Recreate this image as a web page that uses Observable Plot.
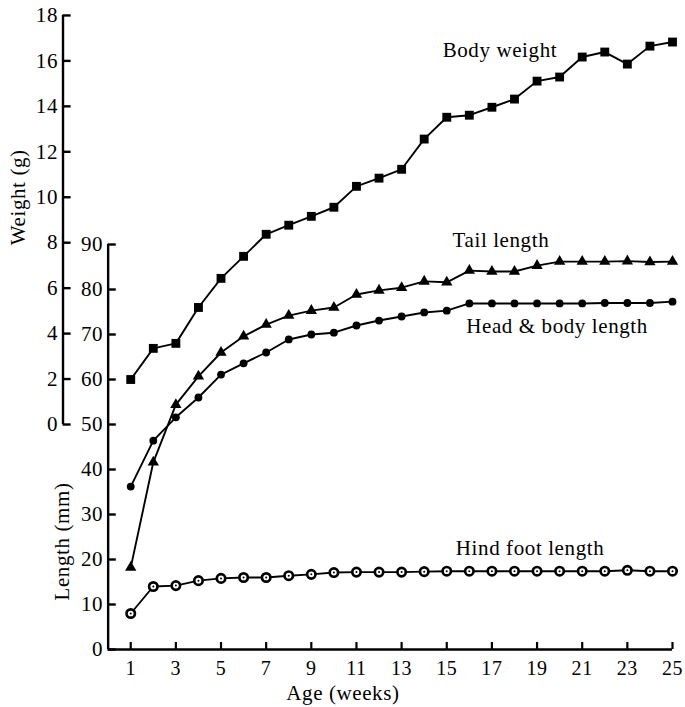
<!DOCTYPE html>
<html>
<head>
<meta charset="utf-8">
<script src="https://cdn.jsdelivr.net/npm/d3@7"></script>
<script src="https://cdn.jsdelivr.net/npm/@observablehq/plot@0.6"></script>
<style>
  html, body { margin: 0; padding: 0; background: #fff; }
  #chart svg { display: block; }
  #chart svg text { letter-spacing: 0.6px; }
</style>
</head>
<body>
<div id="chart"></div>
<script>
// ---- data ----
const weeks = [1,2,3,4,5,6,7,8,9,10,11,12,13,14,15,16,17,18,19,20,21,22,23,24,25];
const bodyWeight = [1.98,3.35,3.57,5.15,6.43,7.4,8.37,8.77,9.16,9.56,10.48,10.84,11.23,12.56,13.52,13.61,13.96,14.32,15.11,15.29,16.17,16.39,15.86,16.65,16.83];
const tailLength = [18.2,41.6,54.4,60.7,66.0,69.6,72.2,74.2,75.3,76.0,78.9,79.8,80.4,81.8,81.6,84.2,84.0,84.0,85.3,86.2,86.2,86.2,86.3,86.1,86.2];
const headBodyLength = [36.2,46.4,51.6,56.0,61.1,63.6,66.0,68.9,70.0,70.4,72.0,73.1,74.0,74.9,75.3,76.9,76.9,76.9,76.9,76.9,76.9,77.0,77.0,77.0,77.3];
const hindFootLength = [8.0,14.0,14.2,15.3,15.8,16.0,16.0,16.4,16.7,17.1,17.2,17.2,17.2,17.3,17.4,17.4,17.4,17.4,17.4,17.4,17.4,17.4,17.6,17.4,17.4];
const weightTicks = [0,2,4,6,8,10,12,14,16,18];
const lengthTicks = [0,10,20,30,40,50,60,70,80,90];
const ageTicks = [1,3,5,7,9,11,13,15,17,19,21,23,25];
const seriesNames = ["Body weight", "Tail length", "Head & body length", "Hind foot length"];
const axisTitles = {weight: "Weight (g)", length: "Length (mm)", age: "Age (weeks)"};

// ---- layout helpers ----
// weight axis is drawn on the length scale: 0 g sits at 50 mm, 8 g at 90 mm
const weightToLength = w => 50 + 5.05 * w;
const weightAxisAt = -2;   // in weeks
const lengthAxisAt = 0;    // in weeks
const yTickWeeks = 0.36;
const xTickMM = 1.55;

const rows = (name, vals, toY) => weeks.map((wk, i) => ({series: name, week: wk, value: vals[i], y: toY(vals[i])}));
const bw = rows(seriesNames[0], bodyWeight, weightToLength);
const tl = rows(seriesNames[1], tailLength, v => v);
const hb = rows(seriesNames[2], headBodyLength, v => v);
const hf = rows(seriesNames[3], hindFootLength, v => v);

const ink = "#000";
const lineW = 1.9;

const chart = Plot.plot({
  width: 685,
  height: 707,
  marginLeft: 62.5,
  marginRight: 13,
  marginTop: 19,
  marginBottom: 58,
  x: {domain: [-2, 25], axis: null},
  y: {domain: [0, 140], axis: null},
  style: {fontFamily: "'Liberation Serif', 'DejaVu Serif', serif", fontSize: "21px", background: "#fff", color: ink},
  marks: [
    // weight axis
    Plot.ruleX([weightAxisAt], {y1: weightToLength(0), y2: weightToLength(18), stroke: ink, strokeWidth: 2.4}),
    Plot.ruleY(weightTicks, {y: weightToLength, x1: weightAxisAt, x2: weightAxisAt + yTickWeeks, stroke: ink, strokeWidth: 2.4}),
    Plot.text(weightTicks, {x: weightAxisAt, y: weightToLength, text: d => String(d), textAnchor: "end", dx: -5, fill: ink}),
    Plot.text([axisTitles.weight], {x: weightAxisAt, y: weightToLength(10), rotate: -90, dx: -45, fill: ink}),
    // length axis
    Plot.ruleX([lengthAxisAt], {y1: 0, y2: 90, stroke: ink, strokeWidth: 2.4}),
    Plot.ruleY(lengthTicks, {y: d => d, x1: lengthAxisAt, x2: lengthAxisAt + yTickWeeks, stroke: ink, strokeWidth: 2.4}),
    Plot.text(lengthTicks, {x: lengthAxisAt, y: d => d, text: d => String(d), textAnchor: "end", dx: -5, fill: ink}),
    Plot.text([axisTitles.length], {x: lengthAxisAt, y: 24, rotate: -90, dx: -45.5, fill: ink}),
    // age axis
    Plot.ruleY([0], {x1: lengthAxisAt, x2: 25, stroke: ink, strokeWidth: 2.4}),
    Plot.ruleX(ageTicks, {x: d => d, y1: 0, y2: xTickMM, stroke: ink, strokeWidth: 2.2}),
    Plot.text(ageTicks, {x: d => d, y: 0, text: d => String(d), dy: 19, fontSize: 20, fill: ink}),
    Plot.text([axisTitles.age], {x: 10.4, y: 0, dy: 44, fill: ink}),
    // series lines
    Plot.line(bw, {x: "week", y: "y", stroke: ink, strokeWidth: lineW}),
    Plot.line(tl, {x: "week", y: "y", stroke: ink, strokeWidth: lineW}),
    Plot.line(hb, {x: "week", y: "y", stroke: ink, strokeWidth: lineW}),
    Plot.line(hf, {x: "week", y: "y", stroke: ink, strokeWidth: lineW}),
    // markers
    Plot.dot(bw, {x: "week", y: "y", symbol: "square", r: 5, fill: ink, stroke: "none"}),
    Plot.dot(tl, {x: "week", y: "y", symbol: "triangle", r: 4.2, fill: ink, stroke: "none"}),
    Plot.dot(hb, {x: "week", y: "y", symbol: "circle", r: 3.9, fill: ink, stroke: "none"}),
    Plot.dot(hf, {x: "week", y: "y", symbol: "circle", r: 4.2, fill: "#fff", stroke: ink, strokeWidth: 2.7}),
    Plot.dot(hf, {x: "week", y: "y", symbol: "circle", r: 1, fill: ink, stroke: "none"}),
    // series labels, anchored to data points
    Plot.text(bw, {filter: d => d.week === 17, x: "week", y: "y", text: d => d.series, dx: 8, dy: -57, fill: ink}),
    Plot.text(tl, {filter: d => d.week === 17, x: "week", y: "y", text: d => d.series, dx: 9, dy: -31, fill: ink}),
    Plot.text(hb, {filter: d => d.week === 19, x: "week", y: "y", text: d => d.series, dx: 20, dy: 23, fill: ink}),
    Plot.text(hf, {filter: d => d.week === 19, x: "week", y: "y", text: d => d.series, dx: -7, dy: -23, fill: ink})
  ]
});
document.getElementById("chart").appendChild(chart);
</script>
</body>
</html>
